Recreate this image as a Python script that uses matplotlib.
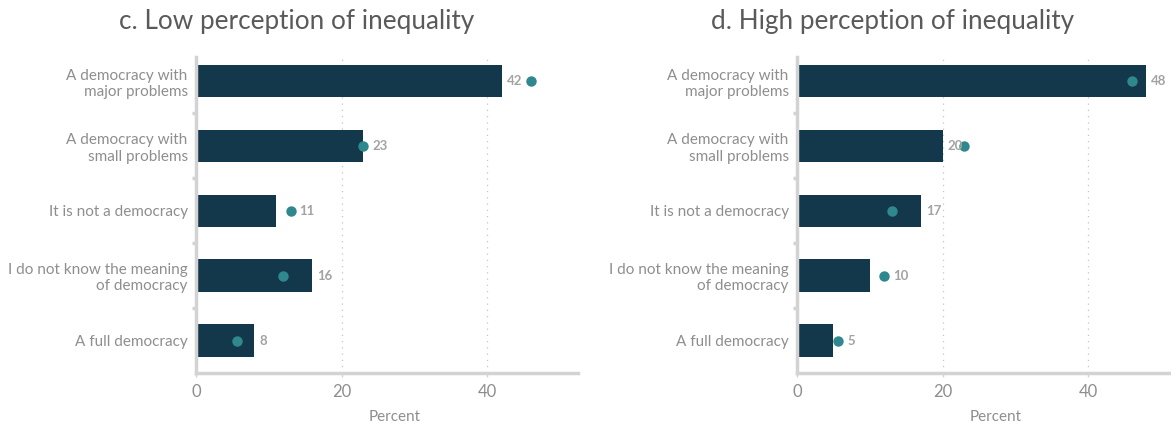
import matplotlib
matplotlib.use("Agg")
import matplotlib.pyplot as plt
import numpy as np

plt.rcParams['font.family'] = ['Lato', 'DejaVu Sans']

categories = ["A democracy with\nmajor problems", "A democracy with\nsmall problems",
              "It is not a democracy", "I do not know the meaning\nof democracy",
              "A full democracy"]
titles = ["c. Low perception of inequality", "d. High perception of inequality"]
low_values = [42, 23, 11, 16, 8]
high_values = [48, 20, 17, 10, 5]
avg_values = [46, 23, 13, 12, 5.7]
xticks = [0, 20, 40]

BAR = "#14384b"
DOT = "#2f888d"
GREY_TXT = "#8e8e8e"
SPINE = "#d3d3d3"

fig = plt.figure(figsize=(11.71, 4.23), dpi=100)

def panel(left, values, title, title_x):
    ax = fig.add_axes([left, 0.1182, 0.3262, 0.747])
    n = len(categories)
    ypos = np.arange(n)[::-1]
    ax.barh(ypos, values, height=0.5, color=BAR, zorder=2)
    ax.plot(avg_values, ypos, 'o', color=DOT, markersize=7.5, zorder=3, markeredgewidth=0)
    for y, v, a in zip(ypos, values, avg_values):
        if v - 0.5 < a < v + 2.6:
            x = a + 1.2
        else:
            x = v + 0.7
        ax.text(x, y, f"{v}", ha='left', va='center', fontsize=9.5,
                fontweight='bold', color="#a3a3a3", zorder=4)
    ax.set_xlim(0, 52.5)
    ax.set_ylim(-0.5, 4.37)
    ax.set_yticks(ypos)
    ax.set_yticklabels(categories, fontsize=11, color=GREY_TXT, linespacing=1.2)
    ax.set_yticks(np.arange(n - 1) + 0.5, minor=True)
    ax.tick_params(axis='y', which='major', length=0, pad=6)
    ax.tick_params(axis='y', which='minor', length=3, width=2.5, color=SPINE)
    ax.set_xticks(xticks)
    ax.set_xticklabels([str(t) for t in xticks], fontsize=12, color=GREY_TXT)
    ax.tick_params(axis='x', length=3, width=1, color=SPINE, pad=5)
    for s in ['top', 'right']:
        ax.spines[s].set_visible(False)
    for s in ['left', 'bottom']:
        ax.spines[s].set_color(SPINE)
        ax.spines[s].set_linewidth(2.5)
    for t in xticks[1:]:
        ax.axvline(t, color="#c4c4c4", linestyle=(0, (1, 4)), linewidth=0.9, zorder=1)
    ax.text(0.521, -0.14, "Percent", transform=ax.transAxes, ha='center', va='center',
            fontsize=11, color=GREY_TXT)
    fig.text(title_x, 1 - 22 / 423, title, ha='center', va='center', fontsize=18.8, color="#5a5a5a")
    return ax

panel(196 / 1171, low_values, titles[0], 297 / 1171)
panel(797 / 1171, high_values, titles[1], 893 / 1171)

fig.savefig("out.png", dpi=100)
